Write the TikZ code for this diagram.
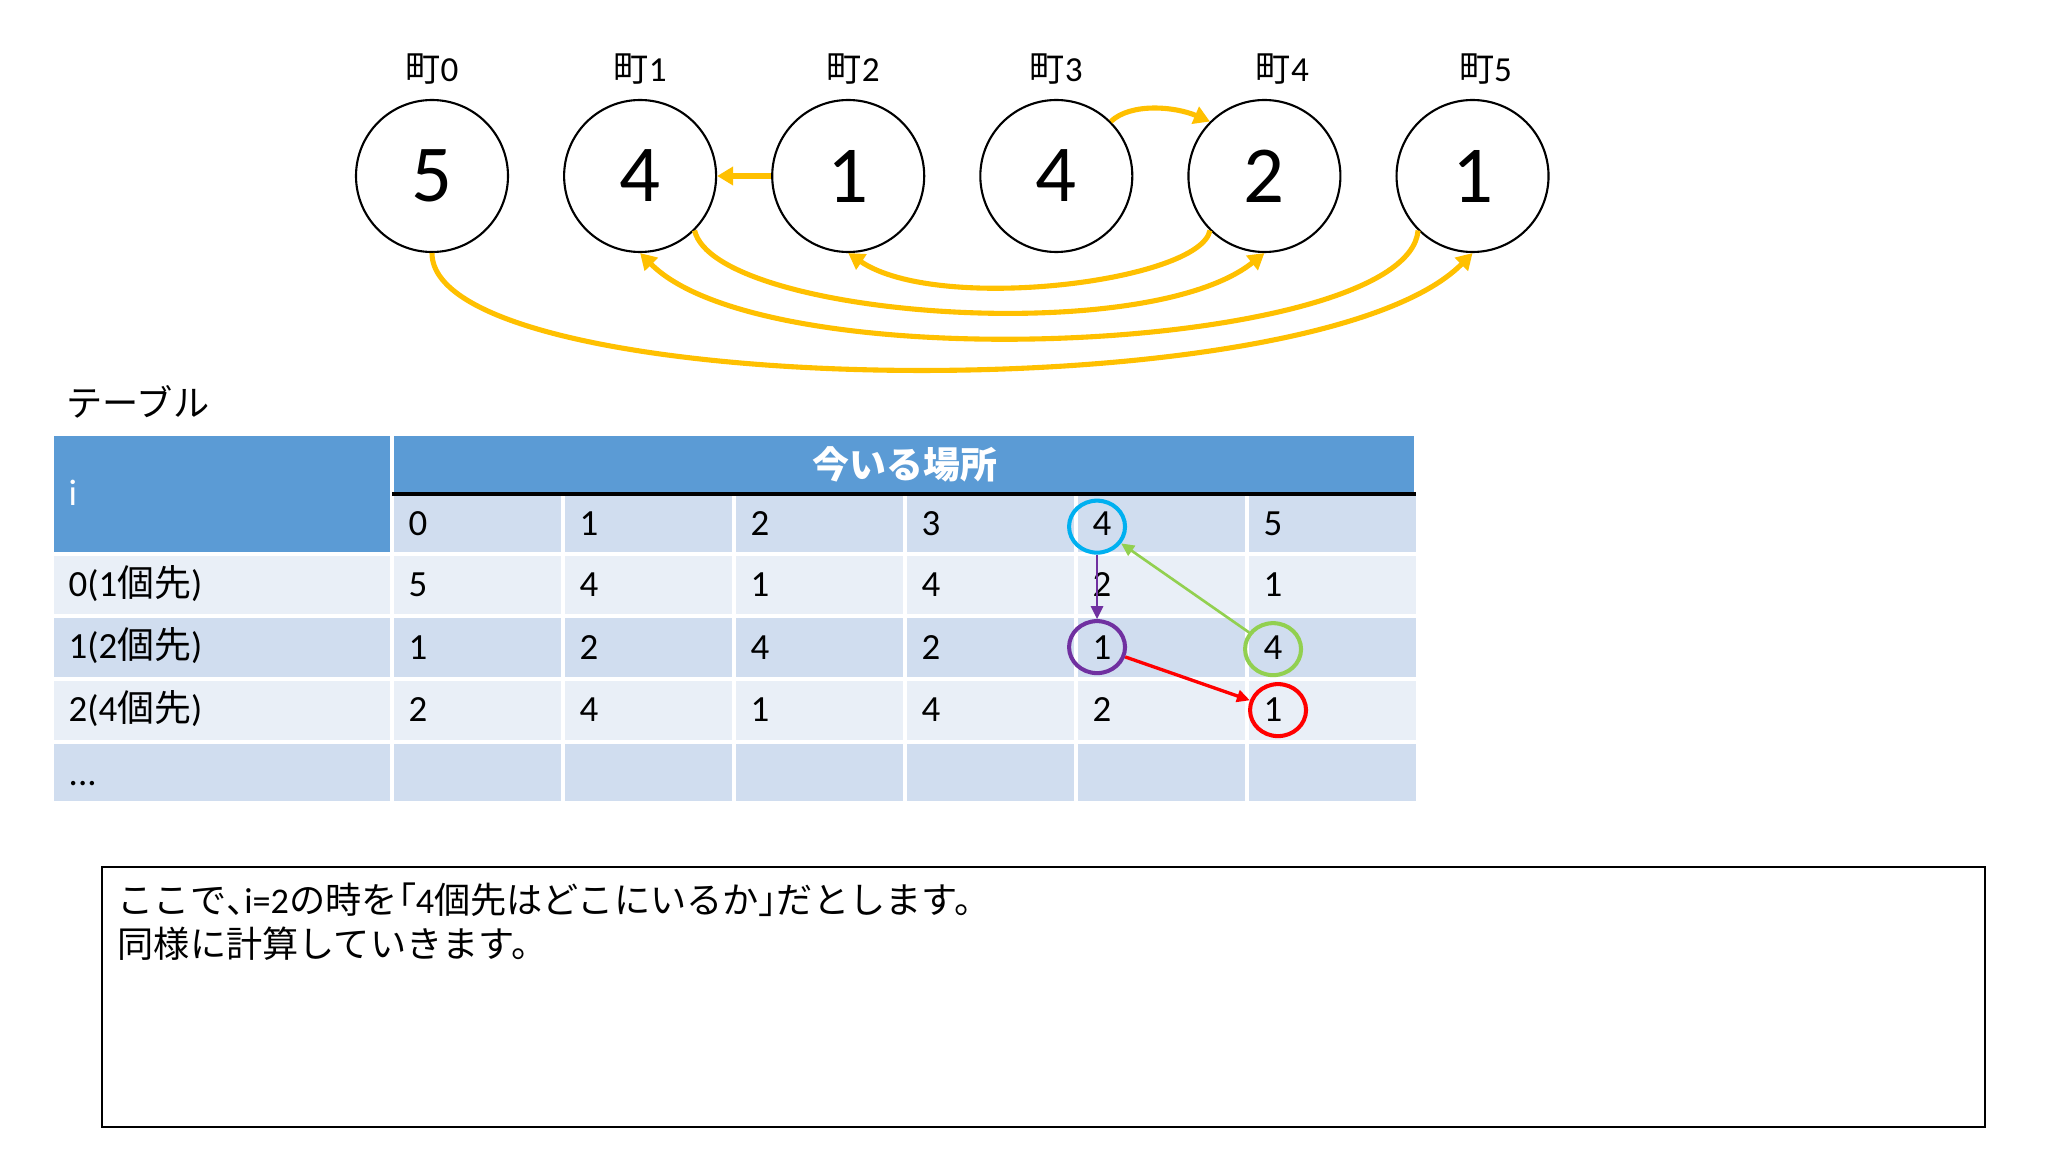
\documentclass[tikz,border=0pt]{standalone}
\usepackage{fontspec}
\setmainfont{Carlito}
\newfontfamily\jp{Noto Sans CJK JP}
\newfontfamily\jpp[RawFeature=+palt]{Noto Sans CJK JP}
\usetikzlibrary{arrows.meta,positioning,shapes.geometric}

\definecolor{gold}{HTML}{FFC000}
\definecolor{hdblue}{HTML}{5B9BD5}
\definecolor{rowdark}{HTML}{D0DDEF}
\definecolor{rowlight}{HTML}{E9EFF7}
\definecolor{ringblue}{HTML}{00B0F0}
\definecolor{ringpurple}{HTML}{7030A0}
\definecolor{ringgreen}{HTML}{92D050}
\definecolor{ringred}{HTML}{FF0000}

\begin{document}
\begin{tikzpicture}
    % towns on top, doubling table below, note at the bottom
    \tikzset{town/.style = {shape=circle,draw,line width=0.6pt,minimum size=1.52cm,inner sep=0pt,font=\fontsize{23}{26}\selectfont}}
    \tikzset{townname/.style = {inner sep=0pt,font=\fontsize{10}{12}\selectfont}}
    \tikzset{hop/.style = {-{Triangle[length=0.16cm,width=0.18cm]},draw=gold,line width=1.45pt}}
    \tikzset{cell/.style = {anchor=base west,inner sep=0pt,font=\fontsize{10.5}{12}\selectfont}}
    \tikzset{tcell/.style = {draw=white,line width=1pt}}
    \tikzset{ring/.style = {shape=ellipse,draw,line width=1.15pt,minimum width=0.56cm,minimum height=0.52cm,inner sep=0pt}}
    \tikzset{jump/.style = {-{Triangle[length=0.13cm,width=0.12cm]},line width=0.75pt}}

    \useasboundingbox (0,0) rectangle (20.48,-11.52);

    % towns
    \node[town] (t0) at (4.32,-1.76) {5};
    \node[town] (t1) [right=0.54cm of t0] {4};
    \node[town] (t2) [right=0.54cm of t1] {1};
    \node[town] (t3) [right=0.54cm of t2] {4};
    \node[town] (t4) [right=0.54cm of t3] {2};
    \node[town] (t5) [right=0.54cm of t4] {1};

    \node[townname] (n0) [above=0.14cm of t0] {{\jp 町}0};
    \node[townname] (n1) [above=0.14cm of t1] {{\jp 町}1};
    \node[townname] (n2) [above=0.14cm of t2, xshift=0.05cm] {{\jp 町}2};
    \node[townname] (n3) [above=0.14cm of t3] {{\jp 町}3};
    \node[townname] (n4) [above=0.14cm of t4, xshift=0.18cm] {{\jp 町}4};
    \node[townname] (n5) [above=0.14cm of t5, xshift=0.13cm] {{\jp 町}5};

    % one move from each town
    \draw[hop] (t0.south) .. controls +(0,-1.47) and +(-1.6,-1.62) .. (t5.south);
    \draw[hop] (t1.-45) .. controls +(0.2,-0.86) and +(-1.2,-0.96) .. (t4.south);
    \draw[hop] (t2.west) -- (t1.east);
    \draw[hop] (t3.45) .. controls +(0.2,0.19) and +(-0.35,0.15) .. (t4.135);
    \draw[hop] (t4.-135) .. controls +(-0.1,-0.51) and +(0.9,-0.61) .. (t2.south);
    \draw[hop] (t5.-135) .. controls +(-0.1,-1.21) and +(1.3,-1.31) .. (t1.south);

    % table
    \node[anchor=west,inner sep=0pt,font=\fontsize{10.3}{12}\selectfont\jp] (title) at (0.66,-4.02) {テーブル};

    \filldraw[fill=hdblue,tcell] (0.52,-4.34) rectangle (3.92,-5.54);
    \filldraw[fill=hdblue,tcell] (3.92,-4.34) rectangle (14.16,-4.94);
    \foreach \yt/\yb/\shade in {-4.94/-5.54/rowdark,-5.54/-6.16/rowlight,-6.16/-6.79/rowdark,-6.79/-7.42/rowlight,-7.42/-8.03/rowdark}
      \foreach \xl in {3.92,5.63,7.34,9.05,10.76,12.47}
        \filldraw[fill=\shade,tcell] (\xl,\yt) rectangle (\xl+1.71,\yb);
    \foreach \yt/\yb/\shade in {-5.54/-6.16/rowlight,-6.16/-6.79/rowdark,-6.79/-7.42/rowlight,-7.42/-8.03/rowdark}
      \filldraw[fill=\shade,tcell] (0.52,\yt) rectangle (3.92,\yb);
    \draw[line width=1pt] (3.92,-4.94) -- (14.16,-4.94);

    \node[inner sep=0pt,text=white,font=\fontsize{10.5}{12}\selectfont\jp\bfseries] (head) at (9.05,-4.64) {今いる場所};
    \node[cell,text=white] (icol) at (0.68,-5.06) {i};

    \node[cell] (lab0) at (0.68,-5.965) {0(1{\jp 個先})};
    \node[cell] (lab1) at (0.68,-6.59) {1(2{\jp 個先})};
    \node[cell] (lab2) at (0.68,-7.22) {2(4{\jp 個先})};
    \node[cell] (lab3) at (0.68,-7.85) {...};

    \foreach \row/\yc/\vals in {hd/-5.24/{0,1,2,3,4,5},r0/-5.85/{5,4,1,4,2,1},r1/-6.475/{1,2,4,2,1,4},r2/-7.105/{2,4,1,4,2,1}}
      \foreach \v [count=\c from 0] in \vals
        \node[cell] (\row-\c) at (3.92+1.71*\c+0.16,\yc-0.115) {\v};

    % following the doubling
    \node[ring,draw=ringblue] (rb) [xshift=-0.05cm,yshift=-0.03cm] at (hd-4.center) {};
    \node[ring,draw=ringpurple] (rp) [xshift=-0.05cm] at (r1-4.center) {};
    \node[ring,draw=ringgreen] (rg) [yshift=-0.02cm] at (r1-5.center) {};
    \node[ring,draw=ringred] (rr) [xshift=0.05cm] at (r2-5.center) {};
    \draw[jump,draw=ringpurple] (rb) -- (rp);
    \draw[jump,draw=ringgreen] (rg) -- (rb);
    \draw[jump,draw=ringred,line width=0.95pt] (rp) -- (rr);

    % note
    \node[draw,line width=0.6pt,minimum width=18.83cm,minimum height=2.60cm] (note) at (10.435,-9.97) {};
    \node[anchor=north west,inner sep=0pt,align=left,font=\fontsize{10.3}{12.5}\selectfont] (notetext) at (1.17,-8.82)
      {{\jp ここで}{\jpp 、}i=2{\jp の時を}{\jpp 「}4{\jp 個先はどこにいるか}{\jpp 」}{\jp だとします。}\\{\jp 同様に計算していきます。}};
\end{tikzpicture}
\end{document}
